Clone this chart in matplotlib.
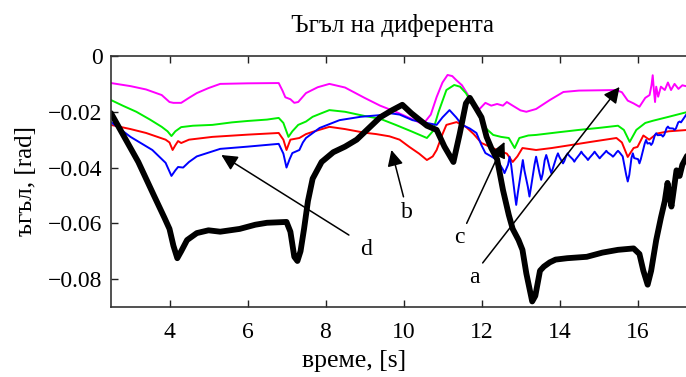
import matplotlib
matplotlib.use("Agg")
import matplotlib.pyplot as plt

# Time (s) and trim angle (rad) for each run
black_t = [2.50, 2.8, 3.2, 3.6, 3.87, 4.0, 4.1, 4.2, 4.3, 4.45, 4.7, 5.0, 5.3, 5.8, 6.2, 6.5,
           7.0, 7.1, 7.2, 7.28, 7.36, 7.45, 7.55, 7.67, 7.9, 8.2, 8.5, 8.8, 9.1, 9.4, 9.7, 9.97,
           10.2, 10.6, 10.85, 11.05, 11.28, 11.44, 11.6, 11.7, 11.86, 12.0, 12.13, 12.25, 12.4,
           12.55, 12.7, 12.8, 12.95, 13.05, 13.15, 13.3, 13.38, 13.5, 13.6, 13.75, 13.9, 14.2,
           14.7, 15.1, 15.5, 15.9, 16.05, 16.15, 16.26, 16.35, 16.48, 16.6, 16.7, 16.77, 16.87,
           16.93, 17.0, 17.08, 17.15, 17.3]
black_v = [-0.0205, -0.028, -0.038, -0.050, -0.058, -0.062, -0.068, -0.0725, -0.070, -0.066,
           -0.0635, -0.0625, -0.063, -0.062, -0.0605, -0.0598, -0.0595, -0.063, -0.072, -0.0735,
           -0.070, -0.062, -0.052, -0.044, -0.038, -0.0345, -0.0325, -0.030, -0.026, -0.022,
           -0.0195, -0.0175, -0.0205, -0.025, -0.0265, -0.0325, -0.038, -0.028, -0.017, -0.015,
           -0.0187, -0.022, -0.029, -0.033, -0.037, -0.048, -0.057, -0.062, -0.066, -0.0695,
           -0.078, -0.088, -0.086, -0.077, -0.0755, -0.074, -0.073, -0.0725, -0.072, -0.0705,
           -0.0695, -0.069, -0.071, -0.077, -0.082, -0.077, -0.066, -0.058, -0.052, -0.0455,
           -0.054, -0.048, -0.041, -0.043, -0.039, -0.035]

magenta_t = [2.5, 3.0, 3.4, 3.8, 4.0, 4.1, 4.3, 4.5, 4.7, 5.0, 5.3, 6.0, 6.8, 6.9, 6.97, 7.1,
             7.2, 7.3, 7.5, 7.8, 8.1, 8.5, 9.0, 9.4, 9.8, 10.2, 10.5, 10.7, 10.85, 11.0, 11.13,
             11.25, 11.35, 11.5, 11.7, 11.85, 11.95, 12.1, 12.25, 12.4, 12.55, 12.65, 12.8, 13.0,
             13.15, 13.4, 13.75, 14.1, 14.5, 15.0, 15.45, 15.6, 15.75, 15.9, 16.05, 16.2, 16.31,
             16.36, 16.39, 16.42, 16.45, 16.48, 16.53, 16.6, 16.7, 16.78, 16.86, 16.95, 17.05,
             17.15, 17.3]
magenta_v = [-0.0097, -0.0108, -0.012, -0.014, -0.0165, -0.0168, -0.0168, -0.015, -0.0133,
             -0.0115, -0.0100, -0.0098, -0.0097, -0.0125, -0.0148, -0.0155, -0.0168, -0.0165,
             -0.0133, -0.0112, -0.0100, -0.0113, -0.015, -0.0178, -0.020, -0.0225, -0.0245,
             -0.021, -0.0147, -0.0095, -0.0068, -0.0072, -0.0086, -0.0105, -0.015, -0.019,
             -0.019, -0.0168, -0.0178, -0.0172, -0.0178, -0.0165, -0.0178, -0.0195, -0.0200,
             -0.019, -0.0158, -0.0129, -0.0124, -0.0123, -0.0122, -0.0130, -0.0160, -0.0170,
             -0.0182, -0.0150, -0.0140, -0.0104, -0.0069, -0.0122, -0.0165, -0.0110, -0.0146,
             -0.0110, -0.0122, -0.0095, -0.0122, -0.0100, -0.0118, -0.0105, -0.0110]

green_t = [2.5, 2.8, 3.15, 3.5, 3.8, 3.95, 4.05, 4.15, 4.3, 4.6, 5.1, 5.6, 6.0, 6.5, 6.8, 6.92,
           7.05, 7.15, 7.3, 7.5, 7.67, 7.9, 8.1, 8.5, 9.0, 9.4, 9.8, 10.2, 10.6, 10.75, 10.9,
           11.1, 11.3, 11.45, 11.6, 11.8, 11.95, 12.1, 12.3, 12.5, 12.7, 12.85, 12.97, 13.2,
           13.4, 14.0, 14.5, 15.0, 15.5, 15.65, 15.8, 15.97, 16.2, 16.4, 16.8, 17.3]
green_v = [-0.0158, -0.0178, -0.020, -0.0228, -0.0254, -0.0270, -0.0287, -0.027, -0.0255,
           -0.025, -0.0247, -0.0238, -0.0233, -0.0228, -0.0222, -0.024, -0.029, -0.027, -0.0247,
           -0.0235, -0.0218, -0.0205, -0.0194, -0.020, -0.0215, -0.0225, -0.0247, -0.027,
           -0.0294, -0.027, -0.020, -0.0122, -0.0104, -0.0110, -0.0133, -0.018, -0.0218,
           -0.0258, -0.0283, -0.0290, -0.0294, -0.0330, -0.0294, -0.0285, -0.0283, -0.0273,
           -0.0265, -0.0258, -0.0250, -0.0265, -0.0308, -0.0265, -0.024, -0.0232, -0.0218,
           -0.0200]

red_t = [2.5, 3.0, 3.4, 3.9, 4.0, 4.08, 4.15, 4.22, 4.3, 4.5, 5.1, 6.0, 6.8, 6.92, 7.0, 7.1,
         7.33, 7.5, 7.67, 8.1, 8.5, 9.0, 9.3, 9.64, 9.9, 10.15, 10.4, 10.6, 10.75, 10.85, 11.0,
         11.1, 11.36, 11.6, 11.8, 12.0, 12.4, 12.65, 12.8, 12.92, 13.05, 13.4, 13.8, 14.26,
         14.8, 15.46, 15.6, 15.75, 15.9, 16.0, 16.15, 16.3, 16.5, 16.8, 17.3]
red_v = [-0.0247, -0.0262, -0.0276, -0.0300, -0.031, -0.0337, -0.032, -0.0305, -0.0312,
         -0.0300, -0.0290, -0.0282, -0.0276, -0.030, -0.0337, -0.030, -0.0294, -0.028, -0.0272,
         -0.0254, -0.0262, -0.0275, -0.0280, -0.0288, -0.030, -0.0326, -0.035, -0.0373, -0.036,
         -0.0337, -0.028, -0.0247, -0.0237, -0.0254, -0.028, -0.0312, -0.0337, -0.035, -0.038,
         -0.036, -0.033, -0.0337, -0.033, -0.032, -0.0308, -0.0294, -0.031, -0.0362, -0.033,
         -0.0326, -0.0285, -0.030, -0.0278, -0.027, -0.0265]

blue_t = [2.5, 3.0, 3.56, 3.9, 4.05, 4.15, 4.22, 4.35, 4.5, 4.7, 5.3, 6.0, 6.8, 6.92, 7.0,
          7.08, 7.15, 7.33, 7.42, 7.5, 7.85, 8.36, 8.9, 9.4, 9.64, 9.9, 10.23, 10.6, 10.85,
          11.0, 11.18, 11.35, 11.5, 11.7, 11.87, 12.0, 12.1, 12.25, 12.4,
          12.55, 12.59, 12.63, 12.68, 12.72, 12.76, 12.85, 12.89, 12.93, 13.02, 13.06, 13.10,
          13.19, 13.23, 13.27, 13.36, 13.40, 13.44, 13.49, 13.53, 13.57, 13.62, 13.66, 13.70,
          13.75, 13.79, 13.83, 13.92, 13.96, 14.00, 14.055, 14.09, 14.125, 14.175, 14.21,
          14.245, 14.345, 14.38, 14.415, 14.525, 14.56, 14.595, 14.695, 14.73, 14.765, 14.865,
          14.90, 14.935, 14.995, 15.03, 15.065, 15.165, 15.20, 15.235, 15.335, 15.37, 15.405,
          15.465, 15.50, 15.535, 15.62, 15.71, 15.75, 15.79, 15.845, 15.88, 15.915, 16.015,
          16.05, 16.085, 16.185, 16.22, 16.255, 16.315, 16.35, 16.385, 16.445, 16.48, 16.515,
          16.615, 16.65, 16.685, 16.745, 16.78, 16.815, 16.915, 16.95, 16.985, 17.045, 17.08,
          17.115, 17.3]
blue_v = [-0.0237, -0.029, -0.0337, -0.0383, -0.043, -0.041, -0.0398, -0.0400, -0.038, -0.036,
          -0.0333, -0.0325, -0.0315, -0.035, -0.040, -0.037, -0.0348, -0.0337, -0.031, -0.0294,
          -0.0258, -0.0230, -0.0218, -0.0212, -0.0205, -0.021, -0.0230, -0.0240, -0.0247,
          -0.022, -0.0194, -0.022, -0.0247, -0.026, -0.0276, -0.032, -0.0348, -0.036, -0.0373,
          -0.0407, -0.0420, -0.0407, -0.0390, -0.0361, -0.0390, -0.0492, -0.0534, -0.0492,
          -0.0410, -0.0373, -0.0410, -0.0470, -0.0504, -0.0470, -0.0389, -0.0361, -0.0389,
          -0.0422, -0.0444, -0.0422, -0.0374, -0.0355, -0.0374, -0.0403, -0.0420, -0.0403,
          -0.0363, -0.0349, -0.0363, -0.0376, -0.0385, -0.0376, -0.0357, -0.0349, -0.0357,
          -0.0371, -0.0379, -0.0371, -0.0351, -0.0343, -0.0351, -0.0366, -0.0373, -0.0366,
          -0.0350, -0.0343, -0.0350, -0.0361, -0.0367, -0.0361, -0.0346, -0.0340, -0.0346,
          -0.0356, -0.0361, -0.0356, -0.0345, -0.0340, -0.0345, -0.0360, -0.0426, -0.0450,
          -0.0426, -0.0366, -0.0349, -0.0366, -0.0370, -0.0385, -0.0370, -0.0314, -0.0301,
          -0.0314, -0.0312, -0.0319, -0.0312, -0.0284, -0.0277, -0.0284, -0.0283, -0.0289,
          -0.0283, -0.0259, -0.0253, -0.0259, -0.0260, -0.0265, -0.0260, -0.0238, -0.0235,
          -0.0238, -0.0200]

x_ticks = [4, 6, 8, 10, 12, 14, 16]
y_ticks = [0, -0.02, -0.04, -0.06, -0.08]
y_tick_labels = ["0", "\u22120.02", "\u22120.04", "\u22120.06", "\u22120.08"]

# Curve labels: (letter, arrow tip, arrow tail, text position)
callouts = [
    ("d", (5.33, -0.0355), (8.6, -0.0642), (9.05, -0.0695)),
    ("b", (9.69, -0.0337), (10.0, -0.0505), (10.08, -0.056)),
    ("c", (12.59, -0.0308), (11.62, -0.060), (11.44, -0.065)),
    ("a", (15.54, -0.0111), (12.03, -0.0742), (11.82, -0.0796)),
]

plt.rcParams["font.family"] = ["Liberation Serif", "DejaVu Serif"]

fig = plt.figure(figsize=(6.86, 3.77), dpi=100)
ax = fig.add_axes([111 / 686, 1 - 307 / 377, 585 / 686, 251 / 377])

thin = dict(lw=1.4, solid_joinstyle="round", solid_capstyle="round")
ax.plot(magenta_t, magenta_v, color="#ff00ff", **thin)
ax.plot(green_t, green_v, color="#00ee00", **thin)
ax.plot(red_t, red_v, color="#ff0000", **thin)
ax.plot(blue_t, blue_v, color="#0000ff", **thin)
ax.plot(black_t, black_v, color="black", lw=4.2, solid_joinstyle="round",
        solid_capstyle="round")

for letter, tip, tail, pos in callouts:
    ax.annotate("", xy=tip, xytext=tail,
                arrowprops=dict(arrowstyle="-|>", color="black", lw=1.1,
                                mutation_scale=24, shrinkA=0, shrinkB=0))
    ax.text(pos[0], pos[1], letter, fontsize=17, ha="center", va="center")

ax.set_xlim(2.5, 17.5)
ax.set_ylim(-0.09, 0)
ax.set_xticks(x_ticks)
ax.set_xticklabels([str(t) for t in x_ticks])
ax.set_yticks(y_ticks)
ax.set_yticklabels(y_tick_labels)
ax.tick_params(direction="in", length=5, width=1, labelsize=17, top=True, right=True,
               colors="#222222", labelcolor="black")
ax.tick_params(axis="y", pad=6)
ax.tick_params(axis="x", pad=11)
for s in ax.spines.values():
    s.set_linewidth(1.2)
    s.set_color("#333333")

ax.set_title("Ъгъл на диферента", fontsize=18, pad=17, x=0.482)
ax.set_xlabel("време, [s]", fontsize=18.5, labelpad=5, x=0.415)
ax.set_ylabel("ъгъл, [rad]", fontsize=18, labelpad=8)

fig.savefig("out.png", dpi=100)
